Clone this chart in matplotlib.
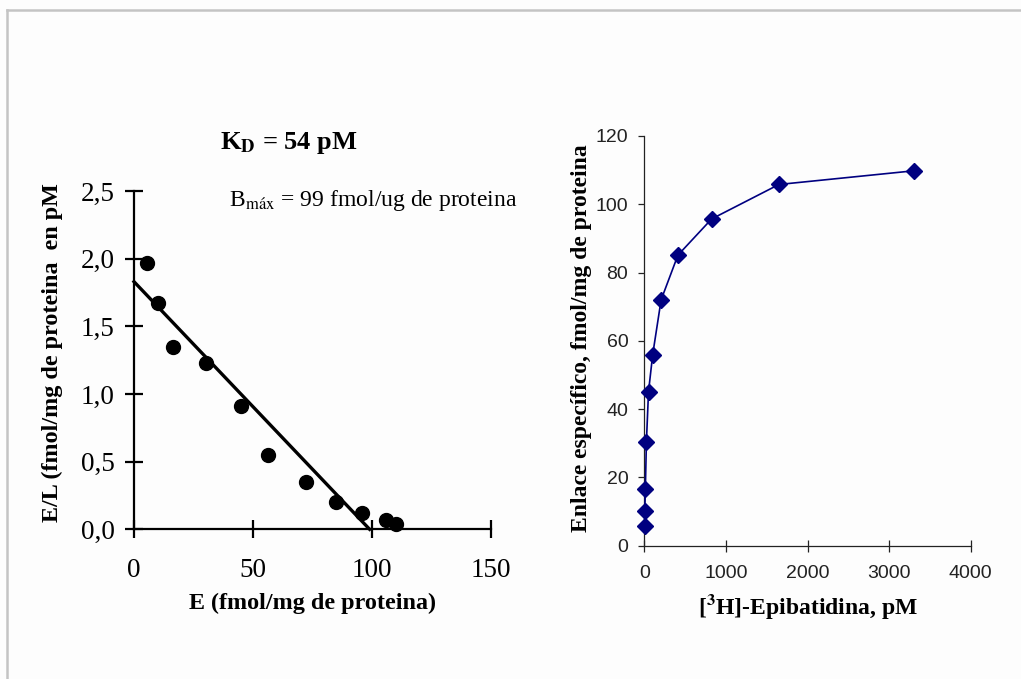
import matplotlib
matplotlib.use("Agg")
import matplotlib.pyplot as plt
from matplotlib.lines import Line2D

# Scatchard data
E_bound = [5.6, 10.1, 16.4, 30.1, 45.0, 56.3, 72.1, 85.0, 95.8, 106.0, 110.0]
E_over_L = [1.97, 1.67, 1.35, 1.23, 0.91, 0.55, 0.35, 0.20, 0.12, 0.07, 0.04]
fit_E = [0, 99]
fit_EL = [1.83, 0.0]
left_xticks = [0, 50, 100, 150]
left_yticks = [0.0, 0.5, 1.0, 1.5, 2.0, 2.5]
left_yticklabels = ["0,0", "0,5", "1,0", "1,5", "2,0", "2,5"]

# Saturation data
conc = [3.2, 6.4, 12.9, 25.8, 51.6, 103, 206, 412, 825, 1650, 3300]
bound = [5.9, 10.2, 16.6, 30.4, 45.1, 56.0, 72.0, 85.1, 95.7, 105.8, 109.8]
right_xticks = [0, 1000, 2000, 3000, 4000]
right_yticks = [0, 20, 40, 60, 80, 100, 120]

W, H = 1021, 679
fig = plt.figure(figsize=(W / 100, H / 100), dpi=100)
fig.patch.set_facecolor("#fdfdfd")

serif = ["Liberation Serif", "DejaVu Serif"]
sans = ["Liberation Sans", "DejaVu Sans"]

# page border lines (top and left)
fig.add_artist(Line2D([7 / W, 1], [1 - 10 / H, 1 - 10 / H], color="#c4c4c4", lw=1.8,
                      transform=fig.transFigure))
fig.add_artist(Line2D([7 / W, 7 / W], [0, 1 - 10 / H], color="#c4c4c4", lw=1.8,
                      transform=fig.transFigure))

# ---- Left: Scatchard ----
ax1 = fig.add_axes([134 / W, 1 - 529.3 / H, (491 - 134) / W, (529.3 - 191) / H])
ax1.set_facecolor("none")
ax1.plot(E_bound, E_over_L, "o", color="black", markersize=10, clip_on=False, zorder=3)
ax1.plot(fit_E, fit_EL, "-", color="black", lw=2.4, clip_on=False)
ax1.set_xlim(0, 150)
ax1.set_ylim(0, 2.5)
ax1.set_xticks(left_xticks)
ax1.set_yticks(left_yticks)
ax1.set_yticklabels(left_yticklabels)
for s in ["top", "right"]:
    ax1.spines[s].set_visible(False)
for s in ["left", "bottom"]:
    ax1.spines[s].set_linewidth(1.6)
ax1.tick_params(direction="inout", length=13, width=1.6, labelsize=19.5)
ax1.tick_params(axis="x", pad=14)
ax1.tick_params(axis="y", pad=7.5)
for lab in ax1.get_xticklabels() + ax1.get_yticklabels():
    lab.set_family(serif)
ax1.set_xlabel("E (fmol/mg de proteina)", fontsize=17.4, fontweight="bold",
               family=serif, labelpad=7)
ax1.set_ylabel("E/L (fmol/mg de proteina  en pM", fontsize=17.4, fontweight="bold",
               family=serif)
ax1.yaxis.set_label_coords(-0.199, 0.521)
fig.text(289 / W, 1 - 143 / H, r"K$_\mathbf{D}$ = 54 pM", fontsize=19, fontweight="bold",
         family=serif, ha="center", va="center",
         math_fontfamily="stix")
fig.text(229 / W, 1 - 200 / H, "B$_{\\mathrm{máx}}$ = 99 fmol/ug de proteina", fontsize=17,
         family=serif, ha="left", va="center", math_fontfamily="stix")

# ---- Right: saturation ----
ax2 = fig.add_axes([644.3 / W, 1 - 545.7 / H, (970.7 - 644.3) / W, (545.7 - 136) / H])
ax2.set_facecolor("none")
ax2.plot(conc, bound, "-D", color="#000080", lw=1.2, markersize=8, clip_on=False, zorder=3)
ax2.set_xlim(0, 4000)
ax2.set_ylim(0, 120)
ax2.set_xticks(right_xticks)
ax2.set_yticks(right_yticks)
for s in ["top", "right"]:
    ax2.spines[s].set_visible(False)
for s in ["left", "bottom"]:
    ax2.spines[s].set_linewidth(0.9)
    ax2.spines[s].set_color("#222222")
ax2.tick_params(axis="y", direction="out", length=4.5, width=0.9, labelsize=14,
                colors="#222222", pad=7)
ax2.tick_params(axis="x", direction="inout", length=9, width=0.9, labelsize=14,
                colors="#222222", pad=9.5)
for lab in ax2.get_xticklabels() + ax2.get_yticklabels():
    lab.set_family(sans)
ax2.set_xlabel("[$^{\\mathbf{3}}$H]-Epibatidina, pM", fontsize=17, fontweight="bold",
               family=serif, labelpad=7, math_fontfamily="stix")
ax2.set_ylabel("Enlace específico, fmol/mg de proteina", fontsize=17, fontweight="bold",
               family=serif)
ax2.yaxis.set_label_coords(-0.160, 0.507)

fig.savefig("out.png", dpi=100, facecolor=fig.get_facecolor())
